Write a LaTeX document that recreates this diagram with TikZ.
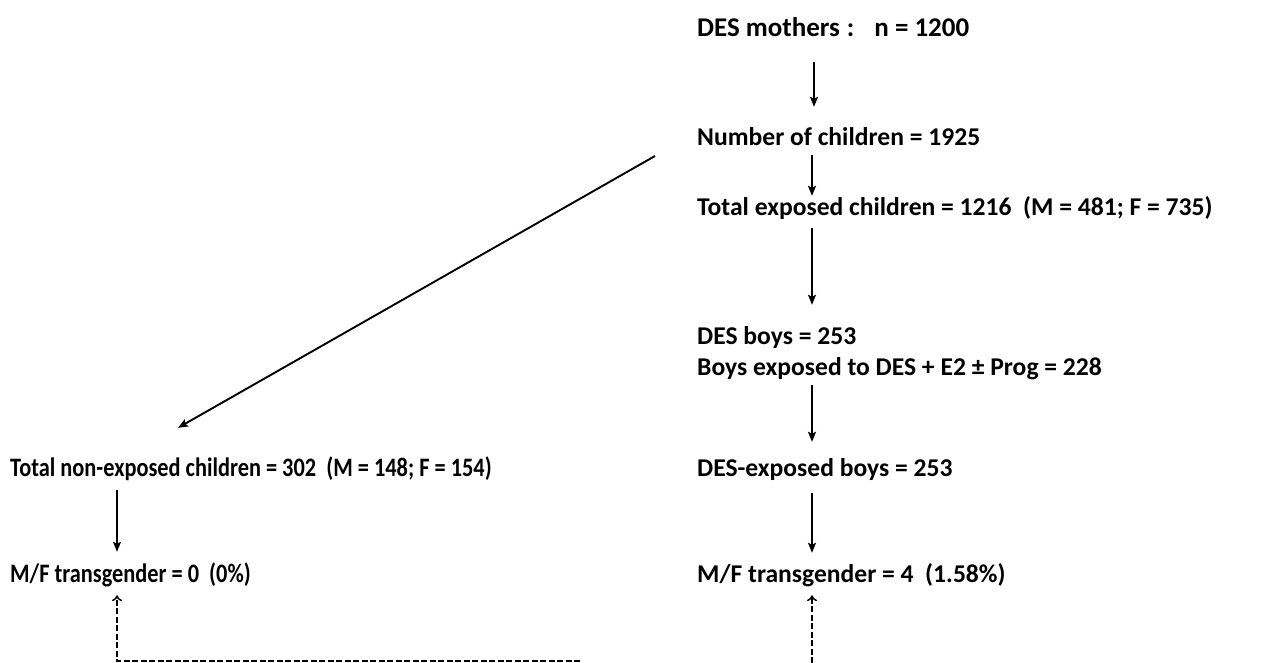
\documentclass[tikz,border=0pt]{standalone}
\usepackage{fontspec}
\setmainfont{Carlito}
\usetikzlibrary{arrows.meta}
\newcommand{\narrow}[1]{\scalebox{0.873}[1.04]{#1}}
\begin{document}
\begin{tikzpicture}[x=1pt,y=-1pt,
  lbl/.style={anchor=base west,inner sep=0pt,text height=18pt,text depth=5pt,font=\fontsize{25.6}{28}\selectfont\bfseries},
  arr/.style={line width=1.7pt,-{Stealth[length=10pt,width=8pt,inset=2pt]}},
  fb/.style={line width=2pt,dash pattern=on 6pt off 2.5pt,-{To[length=6pt,width=10pt,line width=1.5pt]}}]
\useasboundingbox (0,0) rectangle (1269,663);
\fill[white] (0,0) rectangle (1269,663);
% right column
\node[lbl,font=\fontsize{27}{30}\selectfont\bfseries] (moth) at (697,37) {DES mothers\hspace{7pt}:\hspace{20pt}n = 1200};
\node[lbl] (chil) at (697,146) {Number of children = 1925};
\node[lbl] (expo) at (697,215) {Total exposed children = 1216\ \ (M = 481; F = 735)};
\node[lbl] (boys) at (697,344) {DES boys = 253};
\node[lbl] (boyx) at (697,375) {Boys exposed to DES + E2 ± Prog = 228};
\node[lbl] (desx) at (697,476) {DES-exposed boys = 253};
\node[lbl] (mfr) at (697,582) {M/F transgender = 4\ \ (1.58\%)};
% left column
\node[lbl] (nonx) at (10,476) {\narrow{Total non-exposed children = 302\ \ (M = 148; F = 154)}};
\node[lbl] (mfl) at (10,582) {\narrow{M/F transgender = 0\ \ (0\%)}};
% column x positions
\coordinate (cA) at (814,0);
\coordinate (cB) at (812,0);
\coordinate (cL) at (117,0);
% vertical arrows
\draw[arr,shorten <=20pt,shorten >=21pt] (moth.south -| cA) -- (chil.north -| cA);
\draw[arr,shorten <=4pt,shorten >=1pt] (chil.south -| cB) -- (expo.north -| cB);
\draw[arr,shorten <=8pt,shorten >=21pt] (expo.south -| cB) -- (boys.north -| cB);
\draw[arr,shorten <=5pt,shorten >=16pt] (boyx.south -| cB) -- (desx.north -| cB);
\draw[arr,shorten <=12pt,shorten >=11pt] (desx.south -| cB) -- (mfr.north -| cB);
\draw[arr,shorten <=9pt,shorten >=12pt] (nonx.south -| cL) -- (mfl.north -| cL);
% diagonal
\coordinate (dstart) at (655,156);
\draw[arr,line width=1.9pt] (dstart) -- ([xshift=168pt,yshift=30pt]nonx.north west);
% feedback dashed lines
\coordinate (rbot) at (812,663);
\coordinate (hend) at (580,661);
\coordinate (lcorner) at (117,661);
\draw[fb,shorten >=8pt] (rbot) -- (mfr.south -| rbot);
\draw[fb,shorten >=8pt] (hend) -- (lcorner) -- (mfl.south -| lcorner);
\end{tikzpicture}
\end{document}
